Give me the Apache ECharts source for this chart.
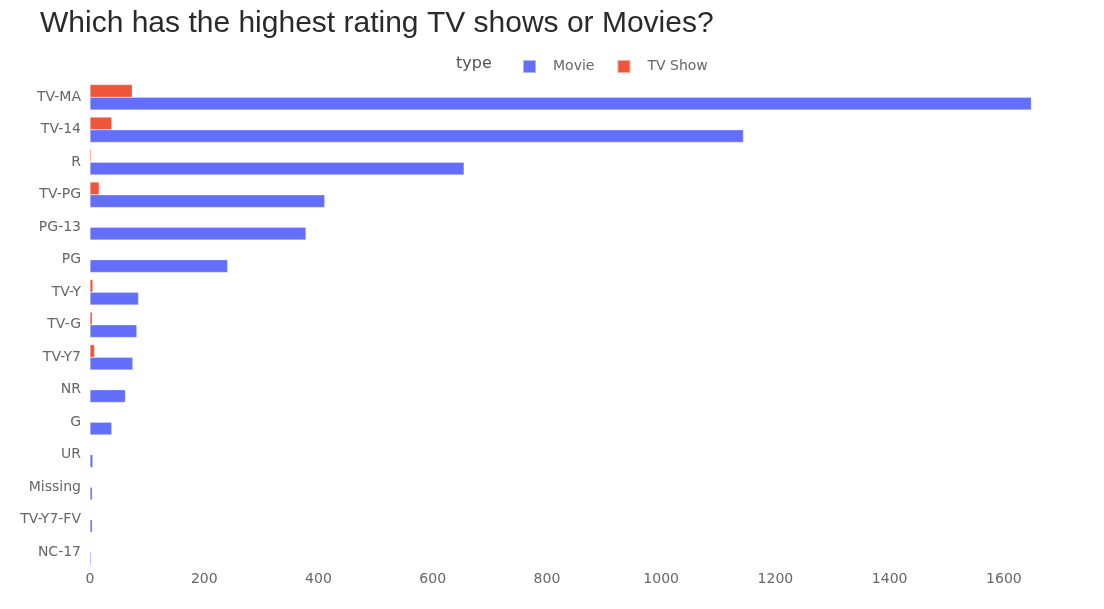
<!DOCTYPE html>
<html>
<head>
<meta charset="utf-8">
<script src="https://cdn.jsdelivr.net/npm/echarts@6/dist/echarts.min.js"></script>
<style>html,body{margin:0;padding:0;background:#fff}#c{width:1104px;height:609px}</style>
</head>
<body>
<div id="c"></div>
<script>
const categories = ['TV-MA','TV-14','R','TV-PG','PG-13','PG','TV-Y','TV-G','TV-Y7','NR','G','UR','Missing','TV-Y7-FV','NC-17'];
const movieValues = [1648, 1144, 655, 411, 378, 241, 85, 82, 75, 62, 38, 5, 4, 4, 2];
const tvShowValues = [74, 38, 2, 16, null, null, 5, 4, 8, null, null, null, null, null, null];
const xTicks = [0, 200, 400, 600, 800, 1000, 1200, 1400, 1600];

const chart = echarts.init(document.getElementById('c'));
const labelFont = 'Verdana, "DejaVu Sans", sans-serif';
chart.setOption({
  animation: false,
  backgroundColor: '#ffffff',
  title: [
    {text: 'Which has the highest rating TV shows or Movies?', left: 35, top: 4,
     textStyle: {fontFamily: 'Arial, "Liberation Sans", sans-serif', fontSize: 30, fontWeight: 'normal', color: '#2a2a2a'}},
    {text: 'type', left: 451, top: 51,
     textStyle: {fontFamily: labelFont, fontSize: 16, fontWeight: 'normal', color: '#555'}}
  ],
  legend: {
    data: ['Movie', 'TV Show'],
    left: 517, top: 54,
    icon: 'rect', itemWidth: 13, itemHeight: 13, itemGap: 22,
    textStyle: {fontFamily: labelFont, fontSize: 14, color: '#666', padding: [0, 0, 0, 12]}
  },
  grid: {left: 90, right: 23, top: 81, height: 487.5, containLabel: false},
  xAxis: {
    type: 'value', min: 0, max: 1735, interval: 200,
    axisLine: {show: false}, axisTick: {show: false}, splitLine: {show: false},
    axisLabel: {showMaxLabel: false, fontFamily: labelFont, fontSize: 14, color: '#666', margin: 4,
      formatter: v => xTicks.includes(v) ? String(v) : ''}
  },
  yAxis: {
    type: 'category', data: categories, inverse: true,
    axisLine: {show: false}, axisTick: {show: false}, splitLine: {show: false},
    axisLabel: {fontFamily: labelFont, fontSize: 14, color: '#666', margin: 9}
  },
  series: [
    {name: 'TV Show', type: 'bar', data: tvShowValues, barGap: '0%', barCategoryGap: '22%',
     itemStyle: {color: '#EF553B', borderColor: 'rgba(255,255,255,0.5)', borderWidth: 0.5}},
    {name: 'Movie', type: 'bar', data: movieValues, barGap: '0%', barCategoryGap: '22%',
     itemStyle: {color: '#636EFA', borderColor: 'rgba(255,255,255,0.5)', borderWidth: 0.5}}
  ]
});
</script>
</body>
</html>
